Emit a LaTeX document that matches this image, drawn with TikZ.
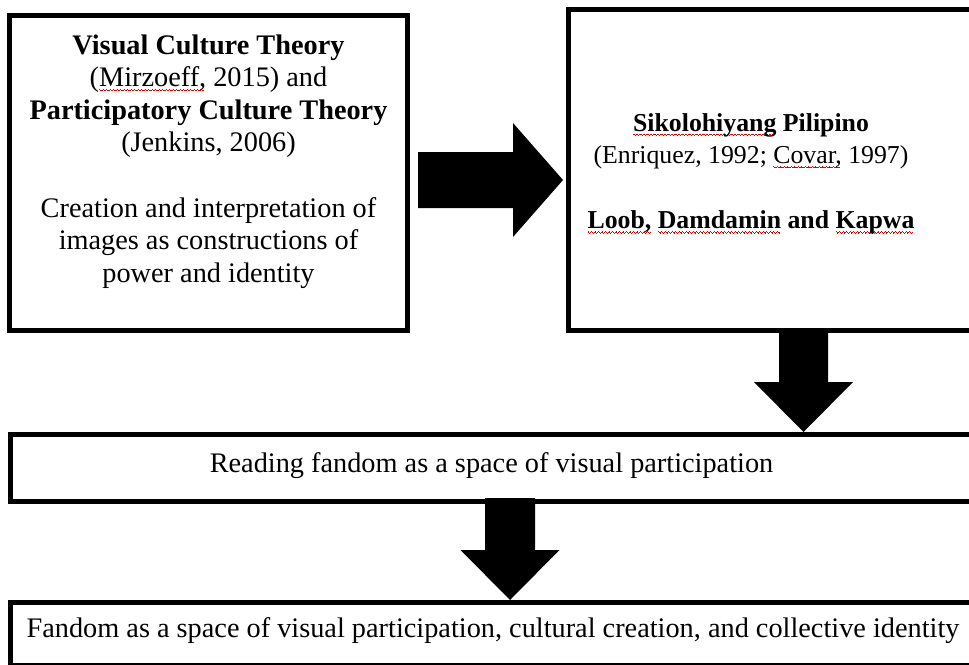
\documentclass[tikz,border=0pt]{standalone}
\usepackage{fontspec}
\setmainfont{Liberation Serif}
\usetikzlibrary{calc}
\newsavebox\sqbox
\newcommand\waveunit{\hbox{\rule[0.9pt]{0.9pt}{0.6pt}\rule[0.3pt]{0.85pt}{0.6pt}\rule[-0.3pt]{0.9pt}{0.6pt}\rule[0.3pt]{0.85pt}{0.6pt}}}
\newcommand\spellsq[1]{\sbox\sqbox{#1}\rlap{\raisebox{-4pt}[0pt][0pt]{\color{red!85!black}\hbox to \wd\sqbox{\leaders\waveunit\hfill}}}\usebox\sqbox}
\begin{document}
\begin{tikzpicture}[x=1pt,y=-1pt,
  box/.style={draw=black,line width=5pt,rectangle,inner sep=0pt},
  txt/.style={inner sep=0pt,anchor=base,font=\fontsize{28.3}{32.6}\selectfont},
  txtb/.style={inner sep=0pt,anchor=base,font=\fontsize{25.8}{32.6}\selectfont},
  blockfill/.style={fill=black}]
\useasboundingbox (0,0) rectangle (969,664);
\clip (0,0) rectangle (969,664);
% boxes
\node[box,minimum width=398pt,minimum height=315.5pt] (b1) at (208.5,172.75) {};
\node[box,minimum width=405pt,minimum height=320.5pt] (b2) at (770.5,169.75) {};
\node[box,minimum width=962.5pt,minimum height=67pt] (b3) at (491.75,468) {};
\node[box,minimum width=964.5pt,minimum height=62.5pt] (b4) at (492.75,633.75) {};
% texts
\node[txt] (t1) at (208.5,54) {\begin{tabular}[t]{@{}c@{}}
\textbf{Visual Culture Theory}\\
(\spellsq{Mirzoeff,} 2015) and\\
\textbf{Participatory Culture Theory}\\
(Jenkins, 2006)\\
\\
Creation and interpretation of\\
images as constructions of\\
power and identity
\end{tabular}};
\node[txtb] (t2) at (751,131) {\begin{tabular}[t]{@{}c@{}}
\textbf{\spellsq{Sikolohiyang} Pilipino}\\
(Enriquez, 1992; \spellsq{Covar,} 1997)\\
\\
\textbf{\spellsq{Loob,} \spellsq{Damdamin} and \spellsq{Kapwa}}
\end{tabular}};
\node[txt] (t3) at (491.5,472) {Reading fandom as a space of visual participation};
\node[txt] (t4) at (493,637) {Fandom as a space of visual participation, cultural creation, and collective identity};
% right block arrow b1 -> b2
\coordinate (ra) at ($(b1.east)+(8,7.25)$);
\coordinate (rt) at ($(b2.west)+(-2.5,10.25)$);
\fill[blockfill] ($(ra)+(0,-28)$) -- ($(rt)+(-50,-28)$) -- ($(rt)+(-50,-57)$) -- (rt)
  -- ($(rt)+(-50,57)$) -- ($(rt)+(-50,28)$) -- ($(ra)+(0,28)$) -- cycle;
% down block arrow b2 -> b3
\coordinate (d1s) at ($(b2.south)+(33,-2)$);
\coordinate (d1t) at (d1s |- b3.north);
\fill[blockfill] ($(d1s)+(-24.5,0)$) -- ($(d1t)+(-24.5,-50)$) -- ($(d1t)+(-49.5,-50)$) -- (d1t)
  -- ($(d1t)+(49.5,-50)$) -- ($(d1t)+(24.5,-50)$) -- ($(d1s)+(24.5,0)$) -- cycle;
% down block arrow b3 -> b4
\coordinate (d2s) at ($(b3.south)+(18.25,-6)$);
\coordinate (d2t) at (d2s |- b4.north);
\fill[blockfill] ($(d2s)+(-25,0)$) -- ($(d2t)+(-25,-50)$) -- ($(d2t)+(-49.5,-50)$) -- (d2t)
  -- ($(d2t)+(49.5,-50)$) -- ($(d2t)+(25,-50)$) -- ($(d2s)+(25,0)$) -- cycle;
\end{tikzpicture}
\end{document}
